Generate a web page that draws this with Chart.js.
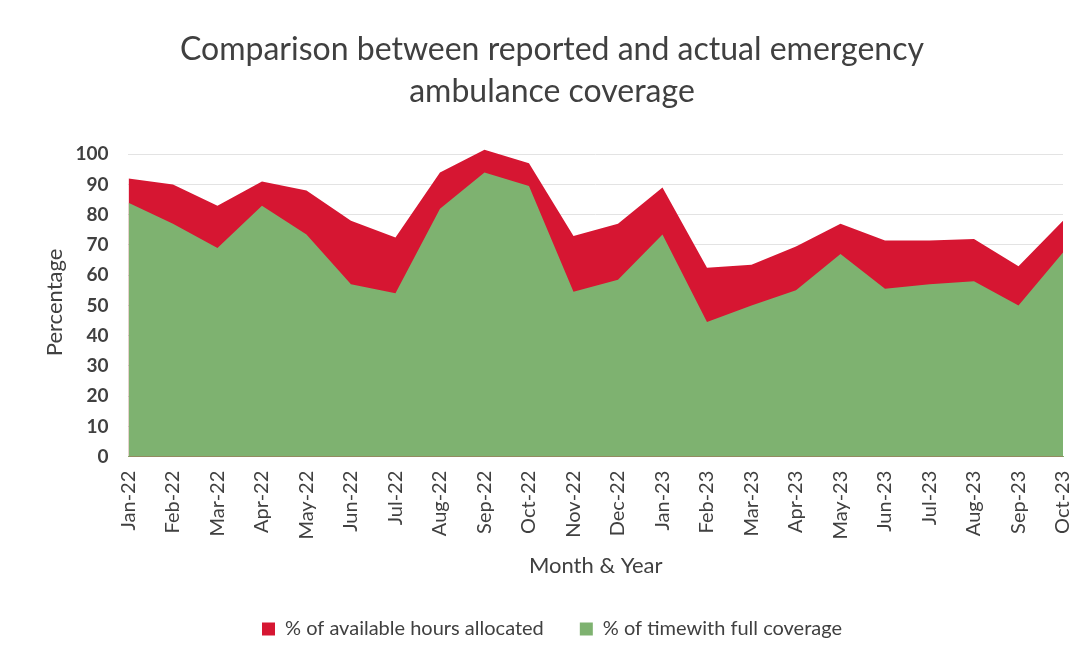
<!DOCTYPE html>
<html>
<head>
<meta charset="utf-8">
<script src="https://cdn.jsdelivr.net/npm/chart.js@4/dist/chart.umd.min.js"></script>
<style>
  html, body { margin: 0; padding: 0; background: #fff; }
  #wrap { width: 1082px; height: 659px; position: relative; }
</style>
</head>
<body>
<div id="wrap"><canvas id="coverageChart" width="1082" height="659"></canvas></div>
<script>
// Reported vs actual ambulance coverage

const months = ['Jan-22', 'Feb-22', 'Mar-22', 'Apr-22', 'May-22', 'Jun-22', 'Jul-22', 'Aug-22', 'Sep-22', 'Oct-22', 'Nov-22',
    'Dec-22', 'Jan-23', 'Feb-23', 'Mar-23', 'Apr-23', 'May-23', 'Jun-23', 'Jul-23', 'Aug-23', 'Sep-23', 'Oct-23'];

// % of available hours allocated (red, behind)
const hoursAllocated = [92, 90, 83, 91, 88, 78, 72.5, 94, 101.5, 97, 73, 77, 89, 62.5, 63.5, 69.5, 77, 71.5, 71.5, 72, 63, 78];

// % of time with full coverage (green, in front)
const fullCoverage = [84, 77, 69, 83, 73.5, 57, 54, 82, 94, 89.5, 54.5, 58.5, 73.5, 44.5, 50, 55, 67, 55.5, 57, 58, 50, 67.5];

const yTicks = [0, 10, 20, 30, 40, 50, 60, 70, 80, 90, 100];

const RED = 'rgb(214, 22, 50)';
const GREEN = 'rgb(126, 178, 112)';
const TEXT = '#404040';

const ctx = document.getElementById('coverageChart').getContext('2d');

new Chart(ctx, {
    type: 'line',
    data: {
        labels: months,
        datasets: [{
            label: '% of available hours allocated',
            data: hoursAllocated,
            backgroundColor: RED,
            borderColor: RED,
            borderWidth: 0,
            pointRadius: 0,
            fill: 'origin',
            tension: 0,
            order: 2
        }, {
            label: '% of timewith full coverage',
            data: fullCoverage,
            backgroundColor: GREEN,
            borderColor: GREEN,
            borderWidth: 0,
            pointRadius: 0,
            fill: 'origin',
            tension: 0,
            order: 1
        }]
    },
    options: {
        responsive: false,
        animation: false,
        layout: {
            padding: { left: 30, right: 8, top: 29, bottom: 10 }
        },
        scales: {
            y: {
                min: 0,
                max: 102,
                afterBuildTicks: axis => {
                    axis.ticks = yTicks.map(v => ({ value: v }));
                },
                grid: { color: '#e3e3e3', lineWidth: 1, drawTicks: false },
                border: { display: false },
                ticks: {
                    color: TEXT,
                    padding: 20,
                    font: { family: 'Lato', size: 19, weight: 'bold' }
                },
                title: {
                    display: true,
                    text: 'Percentage',
                    color: TEXT,
                    padding: { top: 12, bottom: -13 },
                    font: { family: 'Lato', size: 22 }
                }
            },
            x: {
                offset: false,
                afterFit: axis => {
                    // rotated labels get more room than they use
                    axis.paddingRight = 19;
                    axis.height -= 13;
                },
                grid: { display: false, drawTicks: false, tickLength: 0 },
                border: { display: true, color: GREEN },
                ticks: {
                    color: TEXT,
                    maxRotation: 90,
                    minRotation: 90,
                    autoSkip: false,
                    padding: 14,
                    font: { family: 'Lato', size: 20 }
                },
                title: {
                    display: true,
                    text: 'Month & Year',
                    color: TEXT,
                    padding: { top: 12, bottom: 4 },
                    font: { family: 'Lato', size: 22 }
                }
            }
        },
        plugins: {
            title: {
                display: true,
                text: ['Comparison between reported and actual emergency', 'ambulance coverage'],
                color: TEXT,
                padding: { bottom: 36 },
                font: { family: 'Lato', size: 32, weight: 'normal', lineHeight: 1.3 }
            },
            legend: {
                position: 'bottom',
                labels: {
                    color: TEXT,
                    boxWidth: 13,
                    boxHeight: 13,
                    padding: 36,
                    sort: (a, b) => a.datasetIndex - b.datasetIndex,
                    font: { family: 'Lato', size: 20 }
                }
            },
            tooltip: { enabled: false }
        }
    }
});
</script>
</body>
</html>
